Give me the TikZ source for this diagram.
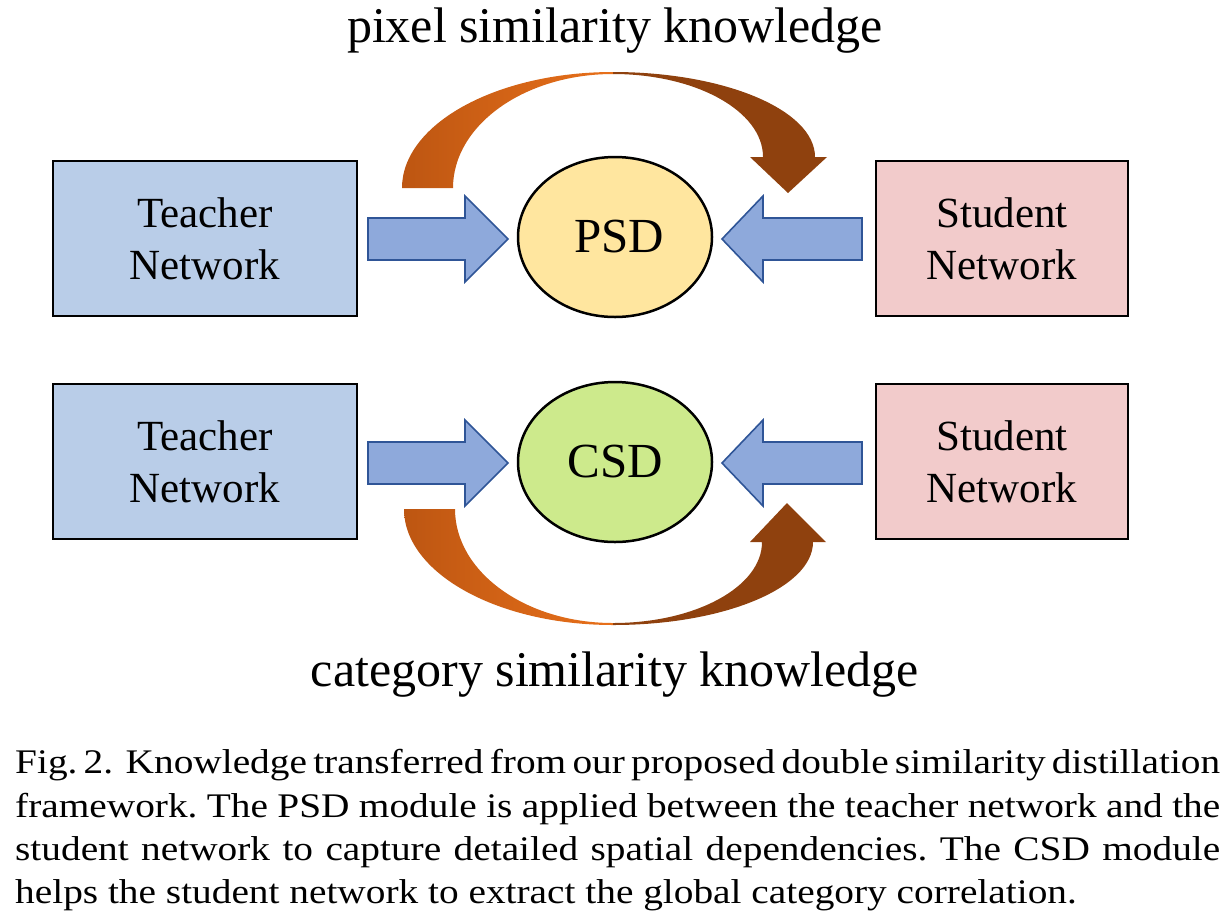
\documentclass[tikz,border=0pt]{standalone}
\usepackage{fontspec}
\setmainfont{Liberation Serif}
\definecolor{tfill}{HTML}{B9CDE8}
\definecolor{sfill}{HTML}{F2CBCB}
\definecolor{psdfill}{HTML}{FFE69F}
\definecolor{csdfill}{HTML}{CDEA8C}
\definecolor{arrfill}{HTML}{8EA9DB}
\definecolor{arrline}{HTML}{2F5597}
\definecolor{orgA}{HTML}{BD5612}
\definecolor{orgB}{HTML}{E8701A}
\definecolor{brown}{HTML}{8F410E}
\newcommand{\capline}[1]{\scalebox{1.14}[1]{\spaceskip=0.25em plus 0.4em minus 0.15em\makebox[1057pt][s]{#1}}}
\tikzset{
  netbox/.style={draw=black, line width=2pt, inner sep=0pt, align=center, font=\fontsize{43}{52}\selectfont},
  modell/.style={draw=black, line width=2.5pt, ellipse, inner sep=0pt, minimum width=194pt, minimum height=160pt, font=\fontsize{49}{52}\selectfont},
  blockarr/.style={fill=arrfill, draw=arrline, line width=1.6pt, line join=miter},
  lbl/.style={font=\fontsize{50}{56}\selectfont, anchor=base, inner sep=0pt},
  captext/.style={font=\fontsize{34.5}{43}\selectfont\frenchspacing, anchor=base west, inner sep=0pt}
}
\usetikzlibrary{shapes.geometric}
\begin{document}
\begin{tikzpicture}[x=1pt,y=-1pt]
\useasboundingbox (0,0) rectangle (1225,922);
% boxes
\node[netbox, fill=tfill, minimum width=304pt, minimum height=155pt] (t1) at (205,238.5) {Teacher\\Network};
\node[netbox, fill=sfill, minimum width=252pt, minimum height=155pt] (s1) at (1002,238.5) {Student\\Network};
\node[netbox, fill=tfill, minimum width=304pt, minimum height=155pt] (t2) at (205,461.5) {Teacher\\Network};
\node[netbox, fill=sfill, minimum width=252pt, minimum height=155pt] (s2) at (1002,461.5) {Student\\Network};
\node[modell, fill=psdfill] (psd) at (615,237) {\hspace*{8pt}PSD};
\node[modell, fill=csdfill] (csd) at (615,462) {CSD};
% block arrows
\foreach \cy in {239,463}{
  \draw[blockarr] (368,\cy-21) -- (465,\cy-21) -- (465,\cy-43) -- (508,\cy) -- (465,\cy+43) -- (465,\cy+21) -- (368,\cy+21) -- cycle;
  \draw[blockarr] (862,\cy-21) -- (763,\cy-21) -- (763,\cy-43) -- (722,\cy) -- (763,\cy+43) -- (763,\cy+21) -- (862,\cy+21) -- cycle;
}
% top curved arrow
\shade[left color=orgA, right color=orgB] (402,188) .. controls (402,124) and (496.5,72) .. (613,72) -- (613,74) .. controls (524.7,74) and (453,125) .. (453,188) -- cycle;
\fill[brown] (613,72) .. controls (724.5,72) and (815,110) .. (815,157) -- (827,157) -- (788,193) -- (750,157) -- (763,157) .. controls (763,111) and (695.8,74) .. (613,74) -- cycle;
% bottom curved arrow
\shade[left color=orgA, right color=orgB] (404,509) .. controls (404,573) and (497.6,625) .. (613,625) -- (613,623) .. controls (525.8,623) and (455,572) .. (455,509) -- cycle;
\fill[brown] (613,625) .. controls (723.4,625) and (813,588) .. (813,542) -- (826,542) -- (787,503) -- (750,542) -- (762,542) .. controls (762,587) and (695.2,623) .. (613,623) -- cycle;
% labels
\node[lbl] (top) at (615,42) {pixel similarity knowledge};
\node[lbl] (bot) at (615,686) {category similarity knowledge};
% caption
\node[captext] (c1) at (15,773) {\capline{Fig. 2.\ \ Knowledge transferred from our proposed double similarity distillation}};
\node[captext] (c2) at (15,817) {\capline{framework. The PSD module is applied between the teacher network and the}};
\node[captext] (c3) at (15,860) {\capline{student network to capture detailed spatial dependencies. The CSD module}};
\node[captext] (c4) at (15,903) {\scalebox{1.14}[1]{helps the student network to extract the global category correlation.}};
\end{tikzpicture}
\end{document}
